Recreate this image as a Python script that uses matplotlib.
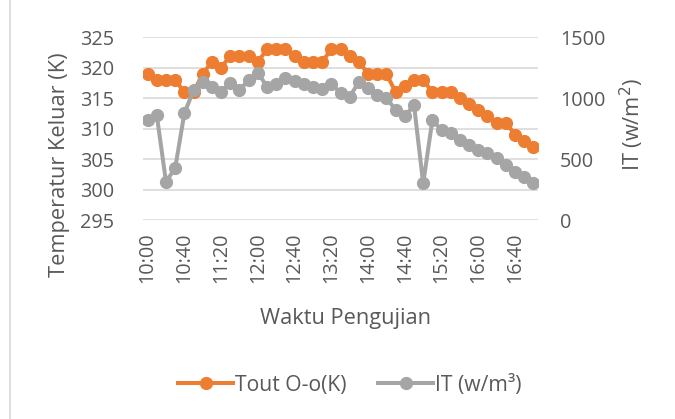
import matplotlib
matplotlib.use("Agg")
import matplotlib.pyplot as plt
from matplotlib.lines import Line2D

# Measurement times (10-minute interval)
times = [
    "10:00", "10:10", "10:20", "10:30", "10:40", "10:50",
    "11:00", "11:10", "11:20", "11:30", "11:40", "11:50",
    "12:00", "12:10", "12:20", "12:30", "12:40", "12:50",
    "13:00", "13:10", "13:20", "13:30", "13:40", "13:50",
    "14:00", "14:10", "14:20", "14:30", "14:40", "14:50",
    "15:00", "15:10", "15:20", "15:30", "15:40", "15:50",
    "16:00", "16:10", "16:20", "16:30", "16:40", "16:50",
    "17:00",
]

# Outlet temperature (K)
tout = [
    319, 318, 318, 318, 316, 316, 319, 321, 320, 322,
    322, 322, 321, 323, 323, 323, 322, 321, 321, 321,
    323, 323, 322, 321, 319, 319, 319, 316, 317, 318,
    318, 316, 316, 316, 315, 314, 313, 312, 311, 311,
    309, 308, 307,
]

# Solar irradiance (W/m2)
irr = [
    820, 860, 315, 425, 875, 1065, 1135, 1095, 1055, 1125,
    1065, 1150, 1210, 1095, 1115, 1165, 1140, 1115, 1090, 1075,
    1115, 1045, 1010, 1135, 1080, 1025, 1000, 905, 850, 945,
    300, 820, 740, 712, 657, 616, 575, 547, 506, 452,
    397, 356, 301,
]

left_ticks = [295, 300, 305, 310, 315, 320, 325]
right_ticks = [0, 500, 1000, 1500]

ORANGE = "#ED7D31"
GRAY = "#A5A5A5"
TXT = "#595959"
GRID = "#D9D9D9"

plt.rcParams["font.family"] = ["Open Sans", "DejaVu Sans"]
FS_TICK = 14.3
FS_TITLE = 15.7

W, H = 675, 419
fig = plt.figure(figsize=(W / 100, H / 100), dpi=100)
ax = fig.add_axes([143 / W, 1 - 220 / H, (538 - 143) / W, (220 - 37.3) / H])
ax2 = ax.twinx()

x = list(range(len(times)))
ax.plot(x, tout, color=ORANGE, lw=2.9, marker="o", ms=8.5, zorder=3,
        solid_capstyle="round", solid_joinstyle="round")
ax2.plot(x, irr, color=GRAY, lw=2.9, marker="o", ms=8.5, zorder=3,
         solid_capstyle="round", solid_joinstyle="round")

ax.set_xlim(-0.5, len(times) - 0.5)
ax.set_ylim(295, 325)
ax2.set_ylim(0, 1500)
ax.set_yticks(left_ticks)
ax2.set_yticks(right_ticks)
ax.set_xticks(x[::4])
ax.set_xticklabels(times[::4], rotation=90)

ax.grid(axis="y", color=GRID, lw=1.2)
ax.set_axisbelow(True)
for a in (ax, ax2):
    for s in a.spines.values():
        s.set_visible(False)
    a.tick_params(length=0, colors=TXT, labelsize=FS_TICK)
ax.tick_params(axis="y", pad=21)
ax2.tick_params(axis="y", pad=16)
ax.tick_params(axis="x", pad=9)

# axis titles
fig.text(60 / W, 1 - 165 / H, "Temperatur Keluar (K)", rotation=90,
         ha="center", va="center", fontsize=FS_TITLE, color=TXT)
fig.text(632 / W, 1 - 124 / H, "IT (w/m$^2$)", rotation=90,
         ha="center", va="center", fontsize=FS_TITLE, color=TXT)
fig.text(345 / W, 1 - 318 / H, "Waktu Pengujian",
         ha="center", va="center", fontsize=FS_TITLE, color=TXT)

handles = [
    Line2D([], [], color=ORANGE, lw=2.9, marker="o", ms=8.5),
    Line2D([], [], color=GRAY, lw=2.9, marker="o", ms=8.5),
]
fig.legend(handles, ["Tout O-o(K)", "IT (w/m³)"], loc="center",
           bbox_to_anchor=(350 / W, 1 - 385 / H), ncol=2, frameon=False,
           fontsize=FS_TITLE - 0.5, labelcolor=TXT, handlelength=2.6,
           handletextpad=0.1, columnspacing=1.5)

# chart area border on the left edge
fig.add_artist(Line2D([10 / W, 10 / W], [0, 1], color=GRID, lw=1.2,
                      transform=fig.transFigure))

fig.savefig("out.png", dpi=100)
